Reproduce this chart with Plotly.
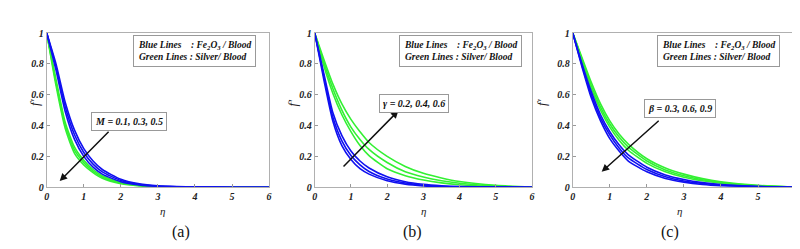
import plotly.graph_objects as go

eta = [0, 0.25, 0.5, 0.75, 1.0, 1.25, 1.5, 2.0, 2.5, 3.0, 3.5, 4.0, 5.0, 6.0]

# Panel (a): M = 0.1, 0.3, 0.5
a_blue = [
    [1, 0.80, 0.55, 0.37, 0.25, 0.17, 0.115, 0.052, 0.022, 0.009, 0.004, 0.002, 0.0, 0.0],
    [1, 0.78, 0.52, 0.34, 0.225, 0.15, 0.10, 0.044, 0.018, 0.007, 0.003, 0.001, 0.0, 0.0],
    [1, 0.76, 0.49, 0.31, 0.20, 0.13, 0.085, 0.036, 0.014, 0.005, 0.002, 0.001, 0.0, 0.0],
]
a_green = [
    [1, 0.70, 0.42, 0.26, 0.175, 0.115, 0.075, 0.032, 0.013, 0.005, 0.002, 0.001, 0.0, 0.0],
    [1, 0.68, 0.40, 0.24, 0.16, 0.105, 0.066, 0.027, 0.011, 0.004, 0.002, 0.001, 0.0, 0.0],
    [1, 0.66, 0.38, 0.22, 0.145, 0.095, 0.058, 0.023, 0.009, 0.003, 0.001, 0.0, 0.0, 0.0],
]
# Panel (b): gamma = 0.2, 0.4, 0.6
b_blue = [
    [1, 0.70, 0.43, 0.27, 0.18, 0.12, 0.085, 0.042, 0.020, 0.009, 0.004, 0.002, 0.001, 0.0],
    [1, 0.72, 0.455, 0.30, 0.205, 0.145, 0.102, 0.053, 0.027, 0.013, 0.006, 0.003, 0.001, 0.0],
    [1, 0.74, 0.485, 0.335, 0.235, 0.17, 0.125, 0.068, 0.036, 0.019, 0.010, 0.005, 0.001, 0.0],
]
b_green = [
    [1, 0.79, 0.61, 0.47, 0.36, 0.27, 0.205, 0.12, 0.075, 0.047, 0.028, 0.016, 0.004, 0.0],
    [1, 0.81, 0.64, 0.50, 0.39, 0.31, 0.245, 0.16, 0.10, 0.066, 0.042, 0.026, 0.008, 0.0],
    [1, 0.83, 0.67, 0.54, 0.44, 0.36, 0.29, 0.20, 0.135, 0.09, 0.06, 0.037, 0.012, 0.0],
]
# Panel (c): beta = 0.3, 0.6, 0.9
c_blue = [
    [1, 0.80, 0.62, 0.47, 0.36, 0.275, 0.21, 0.13, 0.08, 0.05, 0.03, 0.018, 0.005, 0.0],
    [1, 0.79, 0.60, 0.45, 0.34, 0.255, 0.19, 0.115, 0.068, 0.04, 0.024, 0.014, 0.004, 0.0],
    [1, 0.78, 0.58, 0.43, 0.315, 0.235, 0.17, 0.10, 0.057, 0.033, 0.018, 0.010, 0.003, 0.0],
]
c_green = [
    [1, 0.84, 0.68, 0.54, 0.43, 0.345, 0.28, 0.185, 0.125, 0.085, 0.056, 0.036, 0.012, 0.0],
    [1, 0.83, 0.66, 0.52, 0.41, 0.325, 0.26, 0.17, 0.112, 0.075, 0.049, 0.031, 0.010, 0.0],
    [1, 0.82, 0.64, 0.50, 0.39, 0.305, 0.24, 0.155, 0.10, 0.065, 0.042, 0.026, 0.008, 0.0],
]

panel_labels = ["(a)", "(b)", "(c)"]
param_labels = ["M = 0.1, 0.3, 0.5", "γ = 0.2, 0.4, 0.6", "β = 0.3, 0.6, 0.9"]
x_ticks = [0, 1, 2, 3, 4, 5, 6]
y_ticks = [0, 0.2, 0.4, 0.6, 0.8, 1]
y_tick_text = ["0", "0.2", "0.4", "0.6", "0.8", "1"]

W, H = 800, 249
x_dom_px = [(36, 260), (306, 525), (566, 790)]
y_top_px, y_bot_px = 20, 182
ydom = [1 - y_bot_px / H, 1 - y_top_px / H]

SERIF = "Liberation Serif, Times New Roman, serif"
BLUE = "#1010f0"
GREEN = "#33f033"
tickfont = dict(family=SERIF, size=10, color="#222")

fig = go.Figure()
panels = [(a_blue, a_green), (b_blue, b_green), (c_blue, c_green)]
for i, (blues, greens) in enumerate(panels):
    xa = "x" if i == 0 else f"x{i+1}"
    ya = "y" if i == 0 else f"y{i+1}"
    for series, col in [(greens, GREEN), (blues, BLUE)]:
        for s in series:
            fig.add_trace(go.Scatter(x=eta, y=s, mode="lines", xaxis=xa, yaxis=ya,
                                     line=dict(color=col, width=1.6, shape="spline", smoothing=0.6),
                                     showlegend=False, hoverinfo="skip"))

axis_common = dict(showline=True, linecolor="#b0b0b0", linewidth=1, mirror=True,
                   ticks="inside", ticklen=3, tickcolor="#999", showgrid=False, zeroline=False,
                   tickfont=tickfont)
layout = dict(width=W, height=H, margin=dict(l=0, r=0, t=0, b=0),
              paper_bgcolor="white", plot_bgcolor="white", showlegend=False)
for i, (x0, x1) in enumerate(x_dom_px):
    sfx = "" if i == 0 else str(i + 1)
    layout[f"xaxis{sfx}"] = dict(domain=[x0 / W, x1 / W], range=[0, 6], tickvals=x_ticks,
                                 ticktext=[f"<b><i>{t}</i></b>" for t in x_ticks],
                                 anchor=f"y{sfx}", **axis_common)
    layout[f"yaxis{sfx}"] = dict(domain=ydom, range=[0, 1], tickvals=y_ticks,
                                 ticktext=[f"<b><i>{t}</i></b>" for t in y_tick_text],
                                 anchor=f"x{sfx}", **axis_common)
fig.update_layout(**layout)

ann = []
legend_pos = [(123, 254), (391, 519), (651, 778)]
param_box = [(81, 112.5), (371, 94), (638, 99)]
arrows = [((1.71, 0.37), (0.35, 0.04)), ((0.755, 0.125), (2.31, 0.496)), ((2.36, 0.44), (0.78, 0.10))]
label_x = [160, 405, 675]
for i in range(3):
    sfx = "" if i == 0 else str(i + 1)
    x0, x1 = x_dom_px[i]
    ann.append(dict(xref="paper", yref="paper", x=(x0 - 22) / W, y=1 - 93 / H,
                    text="<i>f′</i>", showarrow=False, textangle=-90,
                    font=dict(family=SERIF, size=13, color="#222")))
    ann.append(dict(xref="paper", yref="paper", x=(x0 + x1) / 2 / W, y=1 - 207 / H,
                    yanchor="middle", text="<i>η</i>", showarrow=False,
                    font=dict(family=SERIF, size=11, color="#222")))
    ann.append(dict(xref="paper", yref="paper", x=label_x[i] / W, y=1 - 229 / H,
                    yanchor="middle", text=panel_labels[i], showarrow=False,
                    font=dict(family=SERIF, size=16, color="#111")))
    lx0, lx1 = legend_pos[i]
    ann.append(dict(xref="paper", yref="paper", x=lx0 / W, y=1 - 22 / H, xanchor="left", yanchor="top",
                    text="<b><i>Blue Lines&nbsp;&nbsp;&nbsp;&nbsp;: Fe<sub>2</sub>O<sub>3</sub> / Blood</i></b><br>"
                         "<b><i>Green Lines&nbsp;: Silver/ Blood</i></b>",
                    showarrow=False, align="left", bordercolor="#999", borderwidth=1, borderpad=4,
                    bgcolor="white",
                    font=dict(family=SERIF, size=9.5, color="#111")))
    (tx, ty), (hx, hy) = arrows[i]
    ann.append(dict(xref=f"x{sfx}", yref=f"y{sfx}", axref=f"x{sfx}", ayref=f"y{sfx}",
                    x=hx, y=hy, ax=tx, ay=ty, text="", showarrow=True, arrowhead=2,
                    arrowsize=1, arrowwidth=1.5, arrowcolor="#111"))
    px, py = param_box[i]
    ann.append(dict(xref="paper", yref="paper", x=px / W, y=1 - py / H, xanchor="left", yanchor="middle",
                    text=f"<b><i>{param_labels[i]}</i></b>", showarrow=False,
                    bordercolor="#999", borderwidth=1, borderpad=3, bgcolor="white",
                    font=dict(family=SERIF, size=10, color="#111")))
fig.update_layout(annotations=ann)
fig.write_html("out.html")
